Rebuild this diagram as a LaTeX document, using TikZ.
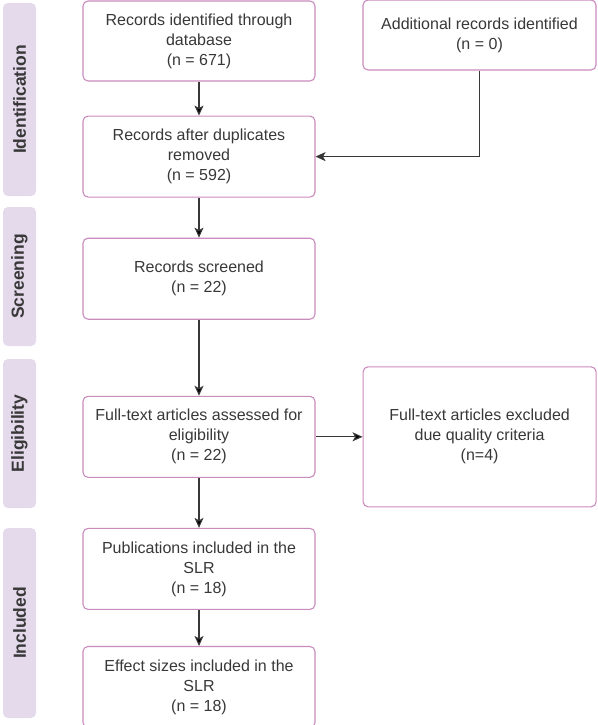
\documentclass[tikz,border=0pt]{standalone}
\usepackage{fontspec}
\setmainfont{Liberation Sans}
\usetikzlibrary{positioning, arrows.meta}

\definecolor{boxline}{HTML}{C98BBE}
\definecolor{barfill}{HTML}{E4DAEC}
\definecolor{txt}{HTML}{383838}

\begin{document}
\begin{tikzpicture}[x=1pt, y=-1pt,
	box/.style={draw=boxline, line width=1.1pt, rounded corners=5pt, align=center, text=txt,
		minimum width=232pt, minimum height=81pt, inner sep=0pt, font=\fontsize{16}{20}\selectfont},
	bar/.style={fill=barfill, rounded corners=5pt, rotate=90, minimum height=33pt, inner sep=0pt,
		text=txt, font=\fontsize{17.5}{20}\selectfont\bfseries},
	arr/.style={draw=txt, line width=1.1pt, -{Stealth[length=10pt, width=9pt, inset=2.5pt]}}]
	\useasboundingbox (0,0) rectangle (597,725);

	% phase bars
	\node[bar, minimum width=193pt] (sid) at (19.5,99.5) {Identification};
	\node[bar, minimum width=139pt] (sscr) at (19.5,276.5) {Screening};
	\node[bar, minimum width=149pt] (selig) at (19.5,433.5) {Eligibility};
	\node[bar, minimum width=190pt] (sincl) at (19.5,623) {Included};

	% main column
	\node[box, minimum height=80pt] (b1) at (199,41) {Records identified through\\database\\(n = 671)};
	\node[box] (b2) [below=34pt of b1] {Records after duplicates\\removed\\(n = 592)};
	\node[box] (b3) [below=40pt of b2] {Records screened\\(n = 22)};
	\node[box] (b4) [below=76pt of b3] {Full-text articles assessed for\\eligibility\\(n = 22)};
	\node[box] (b5) [below=50pt of b4] {Publications included in the\\SLR\\(n = 18)};
	\node[box] (b6) [below=36pt of b5] {Effect sizes included in the\\SLR\\(n = 18)};

	% side boxes
	\node[box, minimum width=233pt, minimum height=70pt] (add) at (479.5,35) {Additional records identified\\(n = 0)};
	\node[box, minimum width=233pt, minimum height=140pt] (excl) [right=47pt of b4] {Full-text articles excluded\\due quality criteria\\(n=4)};

	\path[arr]
		(b1) edge (b2)
		(b2) edge (b3)
		(b3) edge (b4)
		(b4) edge (excl)
		(b4) edge (b5)
		(b5) edge (b6)
	;
	\draw[arr] (add.south) |- (b2.east);
\end{tikzpicture}
\end{document}
